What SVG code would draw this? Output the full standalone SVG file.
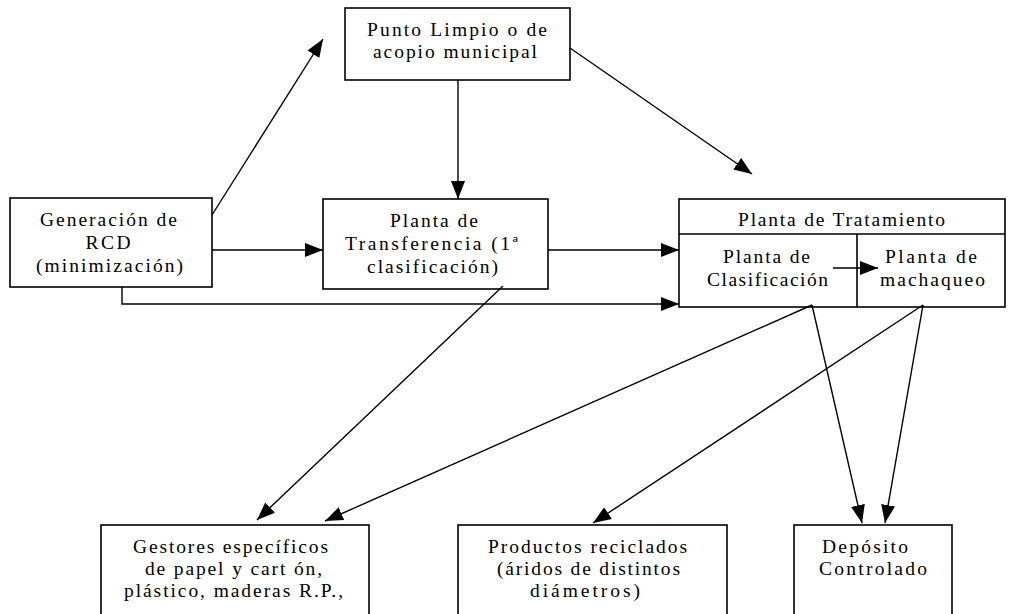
<svg xmlns="http://www.w3.org/2000/svg" width="1009" height="614" viewBox="0 0 1009 614">
<defs>
<marker id="ah" viewBox="0 0 18 14" refX="18" refY="7" markerWidth="18" markerHeight="14" markerUnits="userSpaceOnUse" orient="auto">
<path d="M0,0 L18,7 L0,14 Z" fill="#000"/>
</marker>
<style>
.box{fill:#fff;stroke:#000;stroke-width:1.6}
.t{font-family:"Liberation Serif","Times New Roman",serif;font-size:19.5px;fill:#000;text-anchor:middle}
.c{fill:none;stroke:#000;stroke-width:1.4;marker-end:url(#ah)}
</style>
</defs>
<rect width="1009" height="614" fill="#fff"/>
<g id="punto-limpio">
<rect class="box" x="345" y="8" width="225" height="72"/>
<text class="t" x="457" y="36" textLength="180" lengthAdjust="spacing">Punto Limpio o de</text>
<text class="t" x="455" y="58" textLength="164" lengthAdjust="spacing">acopio municipal</text>
</g>
<g id="generacion">
<rect class="box" x="10" y="198" width="202" height="89"/>
<text class="t" x="108.5" y="226" textLength="137" lengthAdjust="spacing">Generación de</text>
<text class="t" x="108" y="249" textLength="45" lengthAdjust="spacing">RCD</text>
<text class="t" x="109.5" y="272" textLength="147" lengthAdjust="spacing">(minimización)</text>
</g>
<g id="transferencia">
<rect class="box" x="323" y="199" width="225" height="90"/>
<text class="t" x="434" y="227" textLength="88" lengthAdjust="spacing">Planta de</text>
<text class="t" x="431.5" y="250" textLength="173" lengthAdjust="spacing">Transferencia (1ª</text>
<text class="t" x="432.5" y="273" textLength="131" lengthAdjust="spacing">clasificación)</text>
</g>
<g id="tratamiento">
<rect class="box" x="679" y="199" width="326" height="108"/>
<line x1="679" y1="234" x2="1005" y2="234" stroke="#000" stroke-width="1.6"/>
<line x1="857" y1="234" x2="857" y2="307" stroke="#000" stroke-width="1.6"/>
<text class="t" x="841.5" y="226" textLength="207" lengthAdjust="spacing">Planta de Tratamiento</text>
<text class="t" x="766.5" y="263" textLength="87" lengthAdjust="spacing">Planta de</text>
<text class="t" x="767.5" y="286" textLength="121" lengthAdjust="spacing">Clasificación</text>
<text class="t" x="931" y="263" textLength="92" lengthAdjust="spacing">Planta de</text>
<text class="t" x="932.5" y="286" textLength="105" lengthAdjust="spacing">machaqueo</text>
</g>
<g id="gestores">
<rect class="box" x="101" y="525" width="268" height="100"/>
<text class="t" x="230.5" y="553" textLength="195" lengthAdjust="spacing">Gestores específicos</text>
<text class="t" x="233.5" y="575" textLength="177" lengthAdjust="spacing">de papel y cart ón,</text>
<text class="t" x="233.5" y="597" textLength="219" lengthAdjust="spacing">plástico, maderas R.P.,</text>
</g>
<g id="productos">
<rect class="box" x="458" y="525" width="269" height="100"/>
<text class="t" x="587.5" y="553" textLength="199" lengthAdjust="spacing">Productos reciclados</text>
<text class="t" x="588.5" y="575" textLength="183" lengthAdjust="spacing">(áridos de distintos</text>
<text class="t" x="585" y="597" textLength="110" lengthAdjust="spacing">diámetros)</text>
</g>
<g id="deposito">
<rect class="box" x="794" y="525" width="158" height="100"/>
<text class="t" x="865" y="553" textLength="86" lengthAdjust="spacing">Depósito</text>
<text class="t" x="873" y="575" textLength="108" lengthAdjust="spacing">Controlado</text>
</g>
<g id="connectors">
<line class="c" x1="212" y1="215" x2="323" y2="39"/>
<line class="c" x1="458" y1="80" x2="458" y2="199"/>
<line class="c" x1="570" y1="48" x2="752" y2="174"/>
<line class="c" x1="212" y1="250" x2="323" y2="250"/>
<line class="c" x1="548" y1="250" x2="679" y2="250"/>
<polyline class="c" points="122,287 122,304 679,304"/>
<line class="c" x1="833" y1="268" x2="878" y2="268"/>
<line class="c" x1="503" y1="286" x2="257" y2="520"/>
<line class="c" x1="812" y1="305" x2="325" y2="521"/>
<line class="c" x1="812" y1="305" x2="862" y2="523"/>
<line class="c" x1="923" y1="305" x2="593" y2="523"/>
<line class="c" x1="923" y1="305" x2="885" y2="523"/>
</g>
</svg>
